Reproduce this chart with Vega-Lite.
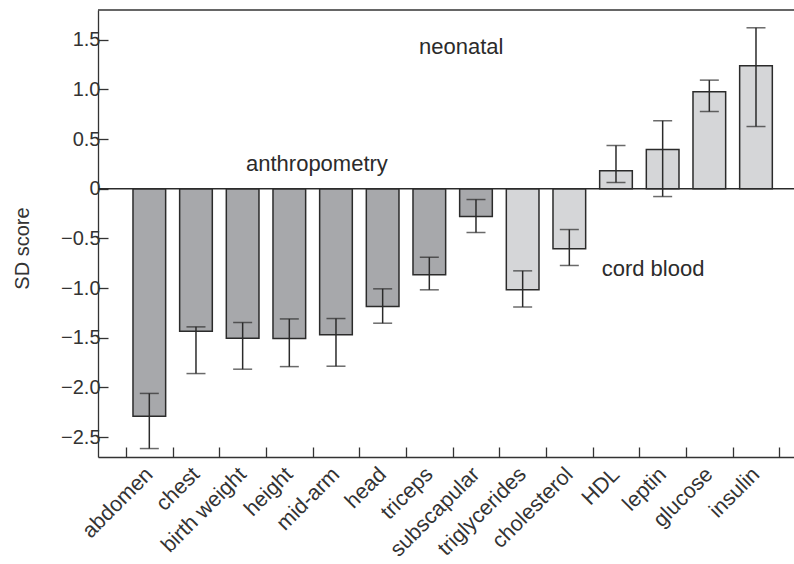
{
  "$schema": "https://vega.github.io/schema/vega-lite/v6.json",
  "autosize": {"type": "none"},
  "padding": {"left": 98, "top": 10, "right": 0, "bottom": 107},
  "width": 696,
  "height": 447,
  "background": "white",
  "config": {
    "view": {"stroke": null},
    "font": "Liberation Sans",
    "axis": {"grid": false, "domainColor": "#333333", "domainWidth": 1.3, "tickColor": "#333333", "tickWidth": 1.3, "labelColor": "#333333", "labelFont": "Liberation Sans", "labelFontSize": 20, "titleFont": "Liberation Sans", "titleColor": "#333333"}
  },
  "datasets": {
    "bars": [
      {"name": "abdomen", "group": "anthropometry", "value": -2.29, "lo": -2.615, "hi": -2.06},
      {"name": "chest", "group": "anthropometry", "value": -1.434, "lo": -1.86, "hi": -1.39},
      {"name": "birth weight", "group": "anthropometry", "value": -1.504, "lo": -1.816, "hi": -1.346},
      {"name": "height", "group": "anthropometry", "value": -1.507, "lo": -1.79, "hi": -1.31},
      {"name": "mid-arm", "group": "anthropometry", "value": -1.47, "lo": -1.786, "hi": -1.306},
      {"name": "head", "group": "anthropometry", "value": -1.185, "lo": -1.353, "hi": -1.007},
      {"name": "triceps", "group": "anthropometry", "value": -0.866, "lo": -1.017, "hi": -0.689},
      {"name": "subscapular", "group": "anthropometry", "value": -0.279, "lo": -0.44, "hi": -0.108},
      {"name": "triglycerides", "group": "cord blood", "value": -1.017, "lo": -1.19, "hi": -0.826},
      {"name": "cholesterol", "group": "cord blood", "value": -0.604, "lo": -0.772, "hi": -0.41},
      {"name": "HDL", "group": "cord blood", "value": 0.181, "lo": 0.063, "hi": 0.436},
      {"name": "leptin", "group": "cord blood", "value": 0.396, "lo": -0.078, "hi": 0.685},
      {"name": "glucose", "group": "cord blood", "value": 0.977, "lo": 0.778, "hi": 1.094},
      {"name": "insulin", "group": "cord blood", "value": 1.239, "lo": 0.627, "hi": 1.621}
    ],
    "notes": [
      {"label": "neonatal", "pos": 7.68, "y": 1.36},
      {"label": "anthropometry", "pos": 4.59, "y": 0.184},
      {"label": "cord blood", "pos": 11.79, "y": -0.873}
    ]
  },
  "layer": [
    {
      "data": {"name": "bars"},
      "encoding": {
        "x": {
          "field": "name", "type": "nominal", "sort": null,
          "scale": {"paddingInner": 0, "paddingOuter": 0.457, "align": 0.656},
          "axis": {"title": null, "orient": "bottom", "tickBand": "extent", "tickSize": -10, "labelAngle": -45, "labelAlign": "right", "labelBaseline": "middle", "labelPadding": 24, "labelFontSize": 21.5}
        }
      },
      "layer": [
        {
          "mark": {"type": "bar", "width": {"band": 0.7}, "stroke": "#2b2b2b", "strokeWidth": 1.5},
          "encoding": {
            "y": {
              "field": "value", "type": "quantitative",
              "scale": {"domain": [-2.7, 1.8], "nice": false, "zero": false},
              "axis": {"title": "SD score", "titleFontSize": 20, "titleFontWeight": "normal", "titleX": -70, "titleY": 238, "titleAngle": 270, "titleAlign": "center", "titleBaseline": "alphabetic", "values": [-2.5, -2, -1.5, -1, -0.5, 0, 0.5, 1, 1.5], "labelExpr": "datum.value == 0 ? '0' : replace(format(datum.value, '.1f'), '-', '−')", "tickSize": -10, "labelPadding": 8}
            },
            "color": {"field": "group", "type": "nominal", "scale": {"domain": ["anthropometry", "cord blood"], "range": ["#a7a8ab", "#d5d6d8"]}, "legend": null}
          }
        },
        {
          "mark": {"type": "rule", "color": "#2b2b2b", "strokeWidth": 1.5},
          "encoding": {"y": {"field": "lo", "type": "quantitative"}, "y2": {"field": "hi"}}
        },
        {
          "mark": {"type": "tick", "color": "#2b2b2b", "size": 19, "thickness": 1.5, "orient": "horizontal"},
          "encoding": {"y": {"field": "lo", "type": "quantitative"}}
        },
        {
          "mark": {"type": "tick", "color": "#2b2b2b", "size": 19, "thickness": 1.5, "orient": "horizontal"},
          "encoding": {"y": {"field": "hi", "type": "quantitative"}}
        }
      ]
    },
    {
      "data": {"values": [{}]},
      "mark": {"type": "rule", "color": "#2b2b2b", "strokeWidth": 1.4},
      "encoding": {"y": {"datum": 0}}
    },
    {
      "data": {"values": [{}]},
      "mark": {"type": "rule", "color": "#333333", "strokeWidth": 1.3},
      "encoding": {"y": {"datum": 1.8}}
    },
    {
      "data": {"name": "notes"},
      "mark": {"type": "text", "font": "Liberation Sans", "fontSize": 22, "color": "#2b2b2b", "align": "center", "baseline": "alphabetic"},
      "encoding": {
        "x": {"field": "pos", "type": "quantitative", "scale": {"domain": [-0.1, 14.81], "nice": false, "zero": false}, "axis": null},
        "y": {"field": "y", "type": "quantitative"},
        "text": {"field": "label"}
      }
    }
  ],
  "resolve": {"scale": {"x": "independent"}, "axis": {"x": "independent"}}
}
